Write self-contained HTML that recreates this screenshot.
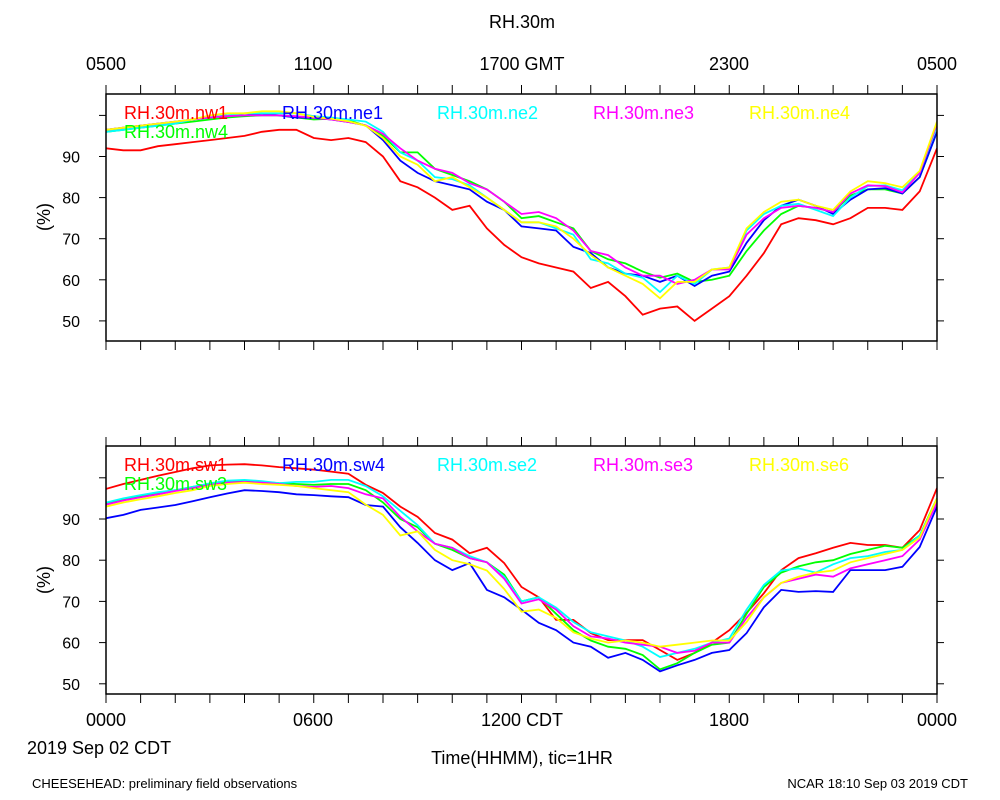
<!DOCTYPE html>
<html><head><meta charset="utf-8"><style>
html,body{margin:0;padding:0;background:#fff;}
svg{display:block;font-family:"Liberation Sans",sans-serif;}
</style></head><body>
<svg id="chart" width="1000" height="800" xmlns="http://www.w3.org/2000/svg">
<text x="522" y="28" font-size="18" text-anchor="middle">RH.30m</text>
<g id="topAxisLabels" font-size="18" text-anchor="middle">
<text x="106" y="70">0500</text><text x="313" y="70">1100</text><text x="522" y="70">1700 GMT</text><text x="729" y="70">2300</text><text x="937" y="70">0500</text>
</g>
<g font-size="18" text-anchor="middle">
<text x="106" y="726">0000</text><text x="313" y="726">0600</text><text x="522" y="726">1200 CDT</text><text x="729" y="726">1800</text><text x="937" y="726">0000</text>
</g>
<text x="27" y="754" font-size="18">2019 Sep 02 CDT</text>
<text x="522" y="764" font-size="18" text-anchor="middle">Time(HHMM), tic=1HR</text>
<text x="32" y="788" font-size="13">CHEESEHEAD: preliminary field observations</text>
<text x="968" y="788" font-size="13" text-anchor="end">NCAR 18:10 Sep 03 2019 CDT</text>
<text transform="translate(50,217) rotate(-90)" font-size="18" text-anchor="middle">(%)</text>
<text transform="translate(50,580) rotate(-90)" font-size="18" text-anchor="middle">(%)</text>
<defs>
<clipPath id="c1"><rect x="106" y="94" width="831" height="247"/></clipPath>
<clipPath id="c2"><rect x="106" y="446" width="831" height="248"/></clipPath>
</defs>
<g id="layer"></g>
</svg>
<script>
const hours = [0,0.5,1,1.5,2,2.5,3,3.5,4,4.5,5,5.5,6,6.5,7,7.5,8,8.5,9,9.5,10,10.5,11,11.5,12,12.5,13,13.5,14,14.5,15,15.5,16,16.5,17,17.5,18,18.5,19,19.5,20,20.5,21,21.5,22,22.5,23,23.5,24];
const yTicks = [50,60,70,80,90];
const topNames = ["RH.30m.nw1","RH.30m.ne1","RH.30m.ne2","RH.30m.ne3","RH.30m.ne4","RH.30m.nw4"];
const botNames = ["RH.30m.sw1","RH.30m.sw4","RH.30m.se2","RH.30m.se3","RH.30m.se6","RH.30m.sw3"];
const nw1 = [92,91.5,91.5,92.5,93,93.5,94,94.5,95,96,96.5,96.5,94.5,94,94.5,93.5,90,84,82.5,80,77,78,72.5,68.5,65.5,64,63,62,58,59.5,56,51.5,53,53.5,50,53,56,61,66.5,73.5,75,74.5,73.5,75,77.5,77.5,77,81.5,92];
const ne1 = [96.5,97,97.5,98,98.5,99,99.5,100,100,100.5,100,99.5,99.4,99,98.4,97.6,94,89,86,84,83,82,79,77,73,72.5,72,68,66.5,63,61.5,61,59.5,61,58.5,61,62,69,74.5,78,79.5,78,76,79.5,82,82.3,81,85,96];
const ne2 = [96,96.5,97,97.5,98,99,99.5,100,100.5,100.5,100.5,100.5,99.8,99.5,99,98.5,96,91,89,85,84.5,83,80,77,74,74,72.5,71,65,64,61.5,60.5,57,61,59,62.5,63,72,76,78,78.5,77,75.5,80,82.8,83,81.8,86,97.5];
const ne3 = [96.5,97,97.5,98,98.5,99,99.5,99.8,100,100,100,99.8,99.4,99,98.4,97.6,95.5,92,89,87,86,83.5,82,79,76,76.5,75,72,67,66,63,61,61,59,60,62.5,62.5,71,75,77.5,78,77.5,76.5,81,83,82.8,81.3,86,98];
const ne4 = [96.5,97,97.5,98,98.5,99,100,100.5,100.5,101,101,100.5,99.6,99.2,98.6,97.5,94.5,90,88,84,85,82.5,80,77,74,74,73,70,66,63,61,59,55.5,59.5,59.5,62.5,63,72.5,76.5,79,79.5,78,77,81.5,84,83.5,82.5,86.5,98.5];
const nw4 = [96,96.5,97,97.5,98,98.5,99,99.5,99.8,100,100,99.5,99,99.2,98.8,97.5,95,91,91,87,85.5,84,82,79,75,75.5,74,72.5,67,65,64,62,60.5,61.5,59.5,60,61,67,72,76,78,77.5,76.5,80.5,82,82,81,85,96];
const sw1 = [97.3,98.5,99.5,100.5,101.4,102.3,103,103.2,103.3,103,102.6,102.3,102,101.5,101,98.3,96.3,93,90.5,86.6,85,81.7,83,79.3,73.5,71,65.5,65.5,62.3,60.6,60.6,60.6,58.2,55.8,57.5,60,63,67.2,72,77.6,80.5,81.7,83,84.2,83.7,83.7,83,87.3,97.5];
const sw4 = [90.2,91,92.2,92.8,93.4,94.3,95.3,96.2,97,96.8,96.5,96,95.8,95.5,95.3,93.4,93,88,84.2,80,77.6,79.3,72.8,71,68,64.8,63,60,59,56.3,57.5,55.8,53,54.5,55.8,57.5,58.2,62.3,68.6,72.8,72.3,72.5,72.3,77.6,77.6,77.6,78.4,83.2,93];
const se2 = [94,95,95.8,96.5,97,97.8,98.7,99.3,99.5,99.2,98.7,99,99,99.5,99.5,98,95.5,92,88.5,84,83,81,79.5,76,70,71,68.5,65,62.5,61.5,60.5,59,56.5,57.5,58.5,60,61,68,74,77.5,78,77,79,80.5,81,82,82.5,86,94.5];
const se3 = [93.5,94.5,95.3,96,96.8,97.5,98.3,98.8,99,98.8,98.5,98,97.8,98,97.5,96,95,90.5,87,84,83,80.5,79.5,75.5,69.5,70.5,68,64,61.5,61,60,59.5,59,57.5,58,60,60,66,71,74.5,75.5,76.5,76,78,79,80,81,85,94];
const se6 = [93,94,94.8,95.5,96.3,97,98,98.5,98.8,98.5,98.3,98,97.5,97,96.5,93.5,91,86,87,82.5,80,79,77.5,73,67.5,68,66,62.5,61,60,60.5,60,59,59.5,60,60.5,60.5,65,71,74.5,76,77,77.5,79.5,80.5,81.5,82.5,85.5,95];
const sw3 = [93.8,94.8,95.6,96.3,97,97.8,98.5,99,99.3,99,98.7,98.5,98.3,98.5,98.5,97,94,90,88,84,82.5,80.5,79.5,76.5,70,71,67,63,60.5,59,58.5,57,53.5,55,57.5,59.5,60,67,73.5,77,78.5,79.5,80,81.5,82.5,83.5,83,86,95];

const NS = "http://www.w3.org/2000/svg";
const layer = document.getElementById("layer");
const colors = ["#ff0000","#0000ff","#00ffff","#ff00ff","#ffff00","#00ff00"];
const X0 = 106, X1 = 937;
function xScale(h){ return X0 + (X1 - X0) * h / 24; }
function mk(tag, attrs, parent){ const e = document.createElementNS(NS, tag); for (const k in attrs) e.setAttribute(k, attrs[k]); (parent||layer).appendChild(e); return e; }

function panel(top, bottom, y90, pxPer, series, names, clip, prefix){
  const yScale = v => y90 - (v - 90) * pxPer;
  const g = mk("g", {});
  
  
  // series
  const order = [0,5,1,2,3,4];
  order.forEach(i => {
    const d = series[i].map((v, j) => (j ? "L" : "M") + xScale(hours[j]).toFixed(1) + "," + yScale(v).toFixed(1)).join("");
    const p = mk("path", {d: d, fill: "none", stroke: colors[i], "stroke-width": 1.8, "clip-path": "url(#" + clip + ")"}, g);
    
    
  });
  // frame
  const fr = mk("rect", {x: X0, y: top, width: X1 - X0, height: bottom - top, fill: "none", stroke: "#000", "stroke-width": 1.5}, g);
  
  
  // x ticks
  for (let h = 0; h <= 24; h++) {
    const x = xScale(h);
    const len = 9;
    const t1 = mk("line", {x1: x, x2: x, y1: top, y2: top - len, stroke: "#000", "stroke-width": 1}, g);
    
    
    const t2 = mk("line", {x1: x, x2: x, y1: bottom, y2: bottom + len, stroke: "#000", "stroke-width": 1}, g);
    
    
  }
  // y ticks
  const allTicks = yTicks.concat([100]);
  allTicks.forEach(v => {
    const y = yScale(v);
    const a = mk("line", {x1: X0 - 7, x2: X0, y1: y, y2: y, stroke: "#000", "stroke-width": 1}, g);
    
    
    const b = mk("line", {x1: X1, x2: X1 + 7, y1: y, y2: y, stroke: "#000", "stroke-width": 1}, g);
    
    
  });
  yTicks.forEach(v => {
    const t = mk("text", {x: 80, y: yScale(v) + 6, "font-size": 16, "text-anchor": "end"}, g);
    t.textContent = v;
    
    
  });
  // legend
  const lx = [124, 282, 437, 593, 749];
  for (let i = 0; i < 5; i++) {
    const t = mk("text", {x: lx[i], y: top + 25, "font-size": 18, fill: colors[i]}, g);
    t.textContent = names[i];
    
    
  }
  const t = mk("text", {x: 124, y: top + 44, "font-size": 18, fill: colors[5]}, g);
  t.textContent = names[5];
  
  
}
panel(94, 341, 156.5, 4.11, [nw1, ne1, ne2, ne3, ne4, nw4], topNames, "c1", "top");
panel(446, 694, 519, 4.12, [sw1, sw4, se2, se3, se6, sw3], botNames, "c2", "bottom");
</script>
</body></html>
